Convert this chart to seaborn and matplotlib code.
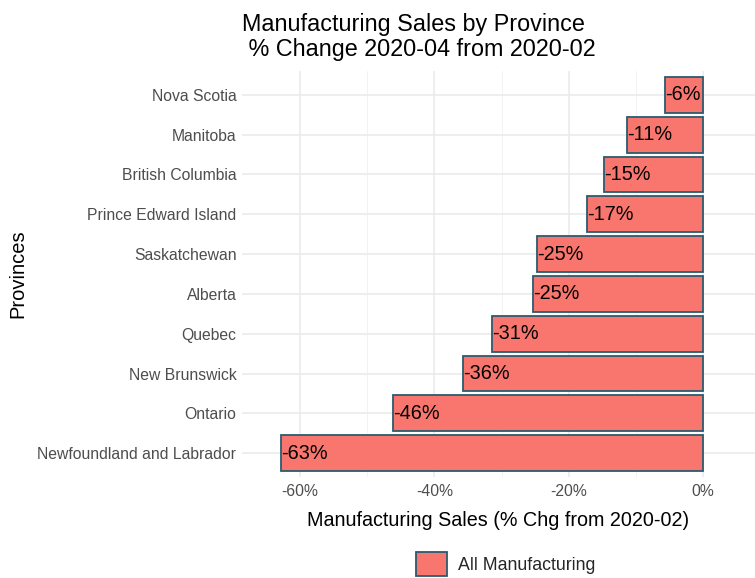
import matplotlib
matplotlib.use("Agg")
import matplotlib.pyplot as plt
import seaborn as sns
import pandas as pd
from matplotlib.ticker import FixedLocator, FuncFormatter

provinces = [
    "Nova Scotia", "Manitoba", "British Columbia", "Prince Edward Island",
    "Saskatchewan", "Alberta", "Quebec", "New Brunswick", "Ontario",
    "Newfoundland and Labrador",
]
pct_change = [-5.7, -11.3, -14.7, -17.3, -24.7, -25.3, -31.4, -35.7, -46.1, -62.8]
series = ["All Manufacturing"] * len(provinces)
x_ticks = [-60, -40, -20, 0]
x_minor = [-50, -30, -10]

df = pd.DataFrame({"Province": provinces, "Change": pct_change, "Series": series})

sns.set_theme(style="white")
plt.rcParams["font.family"] = ["Liberation Sans", "DejaVu Sans"]

fig = plt.figure(figsize=(7.55, 5.78), dpi=100)
ax = fig.add_axes([0.3205, 0.1747, 0.6795, 0.7025])

sns.barplot(data=df, x="Change", y="Province", hue="Series", order=provinces,
            orient="h", palette=["#F8766D"], saturation=1, edgecolor="#2A5B70",
            linewidth=1.3, width=0.9, ax=ax, zorder=3)

# value labels anchored at the bar tip
for i, v in enumerate(pct_change):
    ax.text(v, i, f"{round(v):d}%", ha="left", va="center", fontsize=14.3,
            color="black", zorder=4)

ax.set_xlim(-68.6, 7.7)
ax.set_ylim(len(provinces) - 0.4, -0.6)
ax.xaxis.set_major_locator(FixedLocator(x_ticks))
ax.xaxis.set_minor_locator(FixedLocator(x_minor))
ax.xaxis.set_major_formatter(FuncFormatter(lambda v, _: f"{int(v)}%"))
ax.grid(True, which="major", color="#EBEBEB", linewidth=1.2, zorder=0)
ax.grid(True, which="minor", axis="x", color="#F2F2F2", linewidth=0.7, zorder=0)
ax.set_axisbelow(True)
for s in ax.spines.values():
    s.set_visible(False)
ax.tick_params(axis="both", which="both", length=0, labelsize=11.3, labelcolor="#4D4D4D")
ax.tick_params(axis="x", pad=5)
ax.tick_params(axis="y", pad=4)

ax.set_xlabel("Manufacturing Sales (% Chg from 2020-02)", fontsize=14.2, color="black", labelpad=9)
ax.set_ylabel("Provinces", fontsize=14.5, color="black", labelpad=7)
ax.set_title("Manufacturing Sales by Province\n % Change 2020-04 from 2020-02",
             loc="left", fontsize=16.8, color="black", pad=11, linespacing=1.12)

ax.legend_.remove()
handles, labels = ax.get_legend_handles_labels()
fig.legend(handles[:1], ["All Manufacturing"], loc="center",
           bbox_to_anchor=(0.67, 0.024), frameon=False, fontsize=12.8,
           handlelength=1.75, handleheight=1.7, handletextpad=0.6)

fig.savefig("out.png", dpi=100)
